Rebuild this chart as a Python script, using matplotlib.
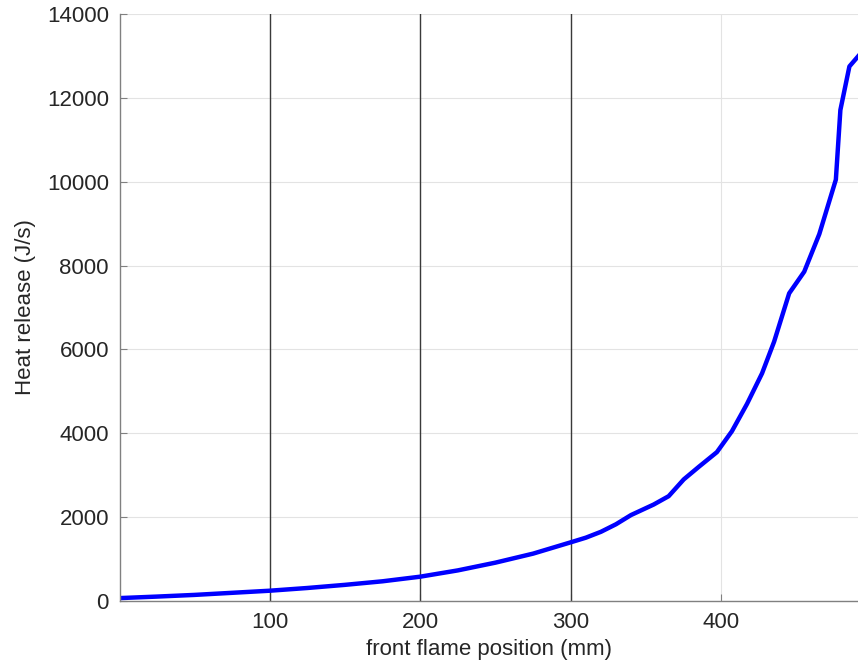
import matplotlib.pyplot as plt

plt.rcParams['font.family'] = ['Liberation Sans', 'DejaVu Sans']

# Flame front position (mm) and heat release (J/s)
position = [1, 25, 50, 75, 100, 125, 150, 175, 200, 225, 250, 275, 300, 310,
            320, 330, 340, 355, 365, 375, 385, 397, 407, 417, 427, 435, 445,
            455, 465, 476, 479, 485, 491]
heat = [70, 105, 145, 195, 245, 310, 385, 470, 580, 730, 915, 1130, 1400, 1510,
        1650, 1830, 2050, 2300, 2500, 2900, 3200, 3550, 4050, 4700, 5430, 6185,
        7338, 7854, 8750, 10050, 11710, 12750, 13000]

marker_lines = [100, 200, 300]

fig = plt.figure(figsize=(8.58, 6.72), dpi=100)
ax = fig.add_axes([120 / 858, 1 - 601 / 672, 1 - 120 / 858, (601 - 14) / 672])

ax.grid(True, color='#e3e3e3', linewidth=0.8)
ax.set_axisbelow(True)

for xv in marker_lines:
    ax.axvline(xv, color='#3a3a3a', linewidth=1.0)

ax.plot(position, heat, color='#0000ff', linewidth=3.2)

ax.set_xlim(0.7, 490.7)
ax.set_ylim(0, 14000)
ax.set_xticks([100, 200, 300, 400])
ax.set_yticks(range(0, 14001, 2000))

for side in ['top', 'right']:
    ax.spines[side].set_visible(False)
for side in ['left', 'bottom']:
    ax.spines[side].set_color('#808080')
    ax.spines[side].set_linewidth(1.0)

ax.tick_params(direction='in', length=5, colors='#808080', labelcolor='#262626',
               labelsize=16, pad=8)

ax.set_xlabel('front flame position (mm)', fontsize=16, color='#262626', labelpad=4)
ax.set_ylabel('Heat release (J/s)', fontsize=16, color='#262626', labelpad=8)

fig.savefig('out.png', dpi=100)
